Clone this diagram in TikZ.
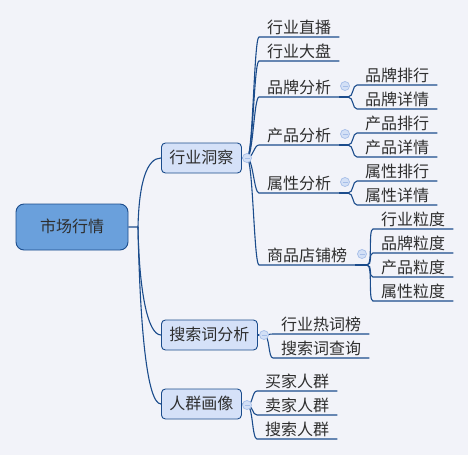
\documentclass[tikz,border=0pt]{standalone}
\usepackage{fontspec}
\newfontfamily\cjk{Noto Sans CJK SC}
\usetikzlibrary{positioning}

\definecolor{paper}{HTML}{F2F3F9}
\definecolor{linkblue}{HTML}{1B4C8C}
\definecolor{rootfill}{HTML}{6AA0DC}
\definecolor{topicfill}{HTML}{D5E1F8}
\definecolor{foldfill}{HTML}{D3E0F6}
\definecolor{foldline}{HTML}{A6BEE8}
\definecolor{ink}{HTML}{2E2E2E}

\tikzset{
  cn/.style={font=\cjk\fontsize{16}{18}\selectfont, text=ink},
  root/.style={cn, draw=linkblue, fill=rootfill, rounded corners=8pt, line width=0.9pt,
    minimum width=112pt, minimum height=46pt, text height=13pt, text depth=2pt},
  topic/.style={cn, draw=linkblue, fill=topicfill, rounded corners=4pt, line width=0.9pt,
    inner xsep=8pt, minimum height=30pt, text height=13pt, text depth=2pt},
  leaf/.style={cn, inner xsep=8pt, inner ysep=0pt, text height=12pt, text depth=3.5pt},
  link/.style={draw=linkblue, line width=1.1pt},
  branch/.style={to path={.. controls +(6,0) and +(-5,0) .. (\tikztotarget.south west) -- (\tikztotarget.south east)}},
  fold/.style={circle, draw=foldline, fill=foldfill, line width=0.7pt, minimum size=9pt, inner sep=0pt,
    path picture={\draw[foldline, line width=0.8pt] ([xshift=-2.5pt]path picture bounding box.center)
      -- ([xshift=2.5pt]path picture bounding box.center);}}
}

\begin{document}
\begin{tikzpicture}[x=1pt, y=-1pt, node distance=24pt, on grid]
  \fill[paper] (0,0) rectangle (468,455);
  \useasboundingbox (0,0) rectangle (468,455);

  % main topics
  \node[root] (mkt) at (72,227) {市场行情};
  \node[topic, anchor=west] (ins) at (161,158) {行业洞察};
  \node[topic, anchor=west] (kwd) at (161,335) {搜索词分析};
  \node[topic, anchor=west] (crd) at (161,404) {人群画像};

  % 行业洞察
  \node[leaf, anchor=south west] (live) at (259,37) {行业直播};
  \node[leaf, anchor=south west] (overview) at (259,61) {行业大盘};
  \node[leaf, anchor=south west] (brand) at (259,97) {品牌分析};
  \node[leaf, anchor=south west] (prod) at (259,145) {产品分析};
  \node[leaf, anchor=south west] (attr) at (259,193) {属性分析};
  \node[leaf, anchor=south west] (shop) at (259,265) {商品店铺榜};

  \node[leaf, anchor=south west] (brandrank) at (357,85) {品牌排行};
  \node[leaf] (branddet) [below=of brandrank] {品牌详情};
  \node[leaf, anchor=south west] (prodrank) at (357,133) {产品排行};
  \node[leaf] (proddet) [below=of prodrank] {产品详情};
  \node[leaf, anchor=south west] (attrrank) at (357,181) {属性排行};
  \node[leaf] (attrdet) [below=of attrrank] {属性详情};

  \node[leaf, anchor=south west] (gind) at (373,229) {行业粒度};
  \node[leaf] (gbrand) [below=of gind] {品牌粒度};
  \node[leaf] (gprod) [below=of gbrand] {产品粒度};
  \node[leaf] (gattr) [below=of gprod] {属性粒度};

  % 搜索词分析, 人群画像
  \node[leaf, anchor=south west] (hotw) at (273,334) {行业热词榜};
  \node[leaf] (query) [below=of hotw] {搜索词查询};
  \node[leaf, anchor=south west] (buyer) at (257,391) {买家人群};
  \node[leaf] (seller) [below=of buyer] {卖家人群};
  \node[leaf] (searcher) [below=of seller] {搜索人群};

  % junctions
  \coordinate (mktj) at (138,227);
  \coordinate (insf) at (247,158);
  \coordinate (brandj) at (348,97);
  \coordinate (prodj) at (348,145);
  \coordinate (attrj) at (348,193);
  \coordinate (shopj) at (367,265);
  \coordinate (kwdf) at (264,335);
  \coordinate (crdf) at (247,405);

  \draw[link] (mkt.east) -- (mktj) .. controls +(1,-45) and +(-14,0) .. (ins.west);
  \draw[link] (mktj) .. controls +(1,60) and +(-14,0) .. (kwd.west);
  \draw[link] (mktj) .. controls +(2,100) and +(-14,0) .. (crd.west);

  \draw[link] (ins.east) -- (insf);
  \draw[link] (kwd.east) -- (kwdf);
  \draw[link] (crd.east) -- (crdf);
  \path[link]
    (insf) edge[branch] (live)
           edge[branch] (overview)
           edge[branch] (brand)
           edge[branch] (prod)
           edge[branch] (attr)
           edge[branch] (shop)
    (brand.south east) edge (brandj)
    (prod.south east) edge (prodj)
    (attr.south east) edge (attrj)
    (shop.south east) edge (shopj)
    (brandj) edge[branch] (brandrank)
             edge[branch] (branddet)
    (prodj) edge[branch] (prodrank)
            edge[branch] (proddet)
    (attrj) edge[branch] (attrrank)
            edge[branch] (attrdet)
    (shopj) edge[branch] (gind)
            edge[branch] (gbrand)
            edge[branch] (gprod)
            edge[branch] (gattr)
    (kwdf) edge[branch] (hotw)
           edge[branch] (query)
    (crdf) edge[branch] (buyer)
           edge[branch] (seller)
           edge[branch] (searcher);

  % fold markers
  \node[fold] (insfold) at (insf) {};
  \node[fold] (brandfold) at (345,86) {};
  \node[fold] (prodfold) at (345,134) {};
  \node[fold] (attrfold) at (345,182) {};
  \node[fold] (shopfold) at (362,254) {};
  \node[fold] (kwdfold) at (kwdf) {};
  \node[fold] (crdfold) at (crdf) {};
\end{tikzpicture}
\end{document}
